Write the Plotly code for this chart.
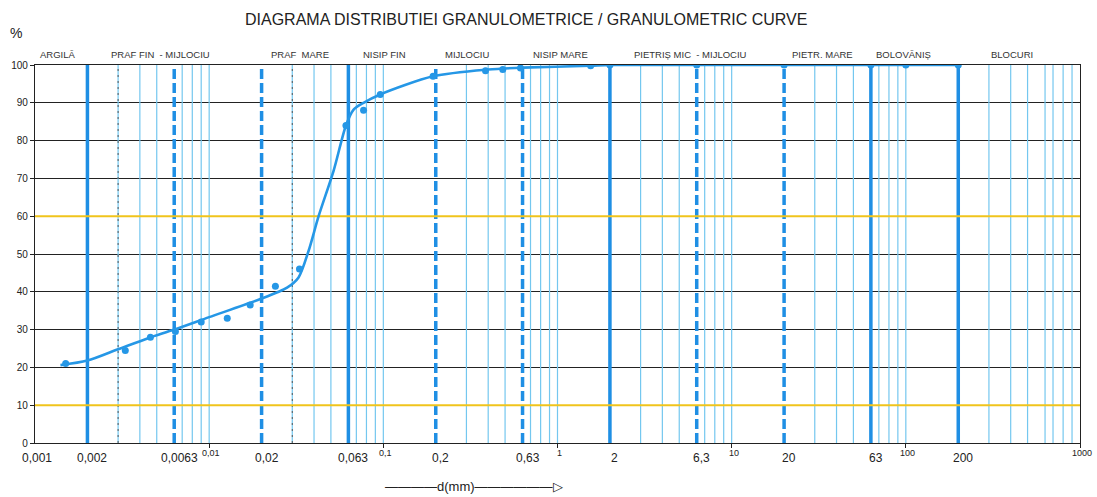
import math
import plotly.graph_objects as go

# ---------------- data ----------------
# measured points (d in mm, percent passing)
pt_d = [0.0015, 0.0033, 0.0046, 0.0064, 0.009, 0.0127, 0.0172, 0.024, 0.033,
        0.061, 0.077, 0.096, 0.193, 0.386, 0.485, 0.613, 1.55, 2, 6.3, 20, 63, 100, 200]
pt_p = [21, 24.5, 28, 29.5, 32, 33, 36.5, 41.5, 46,
        84, 88, 92.2, 97, 98.5, 98.8, 99.2, 99.8, 100, 100, 100, 100, 100, 100]

# hand-drawn smooth curve
curve_d = [0.0014, 0.002, 0.003, 0.0045, 0.0063, 0.01, 0.0192, 0.028, 0.0326,
           0.0372, 0.0425, 0.0518, 0.061, 0.0675, 0.077, 0.096, 0.193, 0.4,
           0.63, 1.55, 2, 200]
curve_p = [20.6, 21.8, 24.8, 27.8, 30, 33.3, 37.9, 41.1, 43.8,
           50.8, 60, 72, 84, 88.2, 90, 92.2, 97, 98.8,
           99.3, 99.8, 100, 100]

# classification boundaries
solid_bounds = [0.002, 0.063, 2, 63, 200]
dashed_bounds = [0.0063, 0.02, 0.2, 0.63, 6.3, 20]
thin_lines = [0.003, 0.004, 0.005, 0.007, 0.008, 0.009, 0.01,
              0.03, 0.04, 0.05, 0.07, 0.08, 0.09, 0.1,
              0.3, 0.4, 0.5, 0.7, 0.8, 0.9, 1,
              3, 4, 5, 7, 8, 9, 10,
              30, 40, 50, 70, 80, 90, 100,
              300, 400, 500, 630, 700, 800, 900]
dotted_lines = [0.003, 0.03]
yellow_levels = [10, 60]

zone_names = ["ARGILĂ", "PRAF FIN  - MIJLOCIU", "PRAF  MARE", "NISIP FIN", "MIJLOCIU",
              "NISIP MARE", "PIETRIȘ MIC  - MIJLOCIU", "PIETR. MARE", "BOLOVĂNIȘ", "BLOCURI"]

major_ticks = [0.001, 0.002, 0.0063, 0.02, 0.063, 0.2, 0.63, 2, 6.3, 20, 63, 200]
major_text = ["0,001", "0,002", "0,0063", "0,02", "0,063", "0,2", "0,63", "2", "6,3", "20", "63", "200"]
minor_ticks = [0.01, 0.1, 1, 10, 100, 1000]
minor_text = ["0,01", "0,1", "1", "10", "100", "1000"]

# ---------------- style ----------------
BLUE = "#1f8fe4"
LIGHT = "#74c7ef"
YELLOW = "#f0c41c"
FONT = "Liberation Sans, Arial, sans-serif"
W, H = 1097, 497
# target pixel geometry of the plot area
PL, PR, PT, PB = 35, 1080, 65, 443
L, T, R, B = PL, PT, W - PR, H - PB
PW, PH = PR - PL, PB - PT


def fx(px):
    return (px - PL) / PW


def fy(py):
    return (PB - py) / PH


def vlines(vals):
    xs, ys = [], []
    for v in vals:
        xs += [v, v, None]
        ys += [0, 100, None]
    return xs, ys


fig = go.Figure()

x, y = vlines(thin_lines)
fig.add_trace(go.Scatter(x=x, y=y, mode="lines", line=dict(color=LIGHT, width=1.2),
                         hoverinfo="skip", showlegend=False))
x, y = vlines(dotted_lines)
fig.add_trace(go.Scatter(x=x, y=y, mode="lines", line=dict(color="#555", width=1, dash="2px,4px"),
                         hoverinfo="skip", showlegend=False))
x, y = vlines(dashed_bounds)
fig.add_trace(go.Scatter(x=x, y=y, mode="lines", line=dict(color=BLUE, width=3.5, dash="10px,4px"),
                         hoverinfo="skip", showlegend=False))
x, y = vlines(solid_bounds)
fig.add_trace(go.Scatter(x=x, y=y, mode="lines", line=dict(color=BLUE, width=3.5),
                         hoverinfo="skip", showlegend=False))
for lv in yellow_levels:
    fig.add_trace(go.Scatter(x=[0.001, 1000], y=[lv, lv], mode="lines",
                             line=dict(color=YELLOW, width=2), hoverinfo="skip", showlegend=False))

fig.add_trace(go.Scatter(x=curve_d, y=curve_p, mode="lines",
                         line=dict(color="#2597e6", width=2.6, shape="spline", smoothing=0.8),
                         showlegend=False))
fig.add_trace(go.Scatter(x=pt_d, y=pt_p, mode="markers",
                         marker=dict(color="#2597e6", size=7), showlegend=False))

annotations = []
annotations.append(dict(text="DIAGRAMA DISTRIBUTIEI GRANULOMETRICE / GRANULOMETRIC CURVE",
                        xref="paper", yref="paper", x=fx(526), y=fy(20),
                        showarrow=False, font=dict(family=FONT, size=16, color="#222"),
                        xanchor="center", yanchor="middle"))
annotations.append(dict(text="%", xref="paper", yref="paper", x=fx(16), y=fy(33),
                        showarrow=False, font=dict(family=FONT, size=14, color="#222"),
                        xanchor="center", yanchor="middle"))
zone_px = [58, 160, 300, 384, 467, 560, 690, 822, 903, 1012]
for name, px in zip(zone_names, zone_px):
    annotations.append(dict(text=name, xref="paper", yref="paper", x=fx(px), y=fy(54),
                            showarrow=False, font=dict(family=FONT, size=9.5, color="#333"),
                            xanchor="center", yanchor="middle"))
for v, t in zip(major_ticks, major_text):
    annotations.append(dict(text=t, x=math.log10(v), xref="x", yref="paper", y=0,
                            yanchor="top", yshift=-6, xshift=5 if v > 0.001 else 2, showarrow=False,
                            font=dict(family=FONT, size=12, color="#222")))
for v, t in zip(minor_ticks, minor_text):
    annotations.append(dict(text=t, x=math.log10(v), xref="x", yref="paper", y=0,
                            yanchor="top", yshift=-3, xshift=2, showarrow=False,
                            font=dict(family=FONT, size=9, color="#222")))
annotations.append(dict(text="————d(mm)——————▷", xref="paper", yref="paper",
                        x=fx(474), y=fy(487), showarrow=False,
                        font=dict(family=FONT, size=13, color="#222"),
                        xanchor="center", yanchor="middle"))

fig.update_layout(
    width=W, height=H, autosize=False,
    margin=dict(l=L, r=R, t=T, b=B, pad=0),
    paper_bgcolor="white", plot_bgcolor="white",
    annotations=annotations,
    xaxis=dict(type="log", range=[-3, 3], showgrid=False, zeroline=False,
               showline=True, linecolor="#222", linewidth=1.2, mirror=True,
               tickvals=minor_ticks, ticks="outside", ticklen=4, tickcolor="#222",
               showticklabels=False),
    yaxis=dict(range=[0, 100], dtick=10, tick0=0, showgrid=True, gridcolor="#222", gridwidth=1,
               zeroline=False, showline=True, linecolor="#222", linewidth=1.2, mirror=True,
               ticks="outside", ticklen=4, tickcolor="#222",
               tickfont=dict(family=FONT, size=10, color="#222")),
)

fig.write_html("out.html", config={"displayModeBar": False},
               post_script="document.body.style.margin='0px';document.body.style.overflow='hidden';")
